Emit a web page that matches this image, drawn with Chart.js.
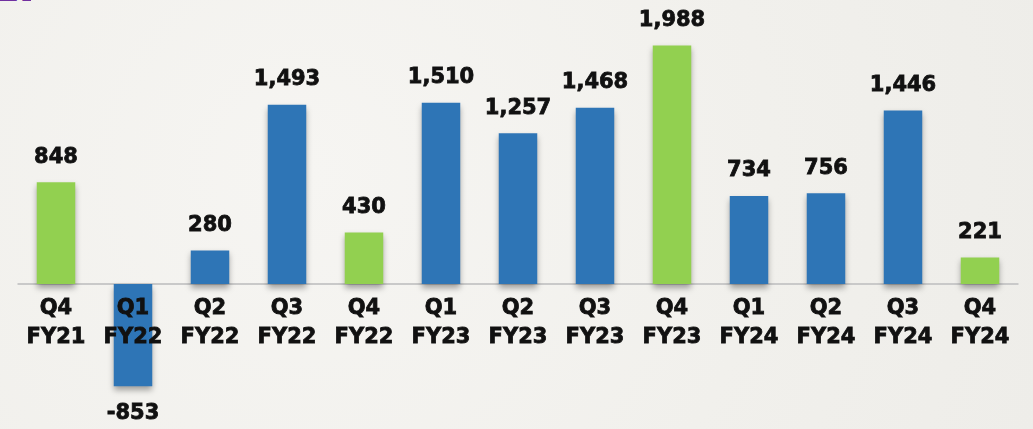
<!DOCTYPE html>
<html>
<head>
<meta charset="utf-8">
<script src="https://cdn.jsdelivr.net/npm/chart.js@4/dist/chart.umd.min.js"></script>
<style>
  html, body { margin: 0; padding: 0; }
  body {
    width: 1033px; height: 429px; overflow: hidden; position: relative;
    background: radial-gradient(circle at 30% 40%, #f6f5f2 0%, #f1f0ec 60%, #eeede9 100%);
  }
  #title {
    position: absolute; left: -4px; top: -31px; width: 35px;
    overflow: hidden; white-space: nowrap;
    font: bold 34px "DejaVu Sans", sans-serif; color: #7030a0;
  }
  #wrap { position: absolute; left: 0; top: 0; width: 1033px; height: 429px; }
</style>
</head>
<body>
<div id="title">EBITDA</div>
<div id="wrap"><canvas id="js-chartjs-ebitda" width="1033" height="429"></canvas></div>
<script>
const quarters = ["Q4", "Q1", "Q2", "Q3", "Q4", "Q1", "Q2", "Q3", "Q4", "Q1", "Q2", "Q3", "Q4"];
const years = ["FY21", "FY22", "FY22", "FY22", "FY22", "FY23", "FY23", "FY23", "FY23", "FY24", "FY24", "FY24", "FY24"];
const ebitda = [848, -853, 280, 1493, 430, 1510, 1257, 1468, 1988, 734, 756, 1446, 221];

const GREEN = "#92d050";
const BLUE = "#2e75b6";
const labelFont = "bold 21px 'DejaVu Sans', sans-serif";

// Q4 bars are green, others blue
const barColors = quarters.map((q) => (q === "Q4" ? GREEN : BLUE));

const zeroLine = {
  id: "zeroLine",
  beforeDatasetsDraw(chart) {
    const { ctx, chartArea, scales } = chart;
    const y = scales.y.getPixelForValue(0);
    ctx.save();
    ctx.strokeStyle = "#c9c9c9";
    ctx.lineWidth = 2;
    ctx.beginPath();
    ctx.moveTo(chartArea.left, y);
    ctx.lineTo(chartArea.right, y);
    ctx.stroke();
    ctx.restore();
  },
  beforeDatasetDraw(chart) {
    const ctx = chart.ctx;
    ctx.save();
    ctx.shadowColor = "rgba(0, 0, 0, 0.35)";
    ctx.shadowBlur = 6;
    ctx.shadowOffsetY = 4;
  },
  afterDatasetDraw(chart) {
    chart.ctx.restore();
  }
};

const barLabels = {
  id: "barLabels",
  afterDatasetsDraw(chart) {
    const { ctx, scales } = chart;
    const zeroY = scales.y.getPixelForValue(0);
    const meta = chart.getDatasetMeta(0);
    ctx.save();
    ctx.font = labelFont;
    ctx.fillStyle = "#111111";
    ctx.strokeStyle = "#111111";
    ctx.lineWidth = 0.8;
    ctx.textAlign = "center";
    ctx.textBaseline = "middle";
    const put = (txt, x, y) => {
      ctx.fillText(txt, x, y);
      ctx.strokeText(txt, x, y);
    };
    meta.data.forEach((bar, i) => {
      const v = ebitda[i];
      const txt = v.toLocaleString("en-US");
      const ly = v >= 0 ? bar.y - 25 : bar.y + 27;
      put(txt, bar.x, ly);
      put(quarters[i], bar.x, zeroY + 25);
      put(years[i], bar.x, zeroY + 54);
    });
    ctx.restore();
  }
};

new Chart(document.getElementById("js-chartjs-ebitda"), {
  type: "bar",
  data: {
    labels: quarters.map((q, i) => [q, years[i]]),
    datasets: [{
      data: ebitda,
      backgroundColor: barColors,
      borderWidth: 0,
      barPercentage: 0.5,
      categoryPercentage: 1.0
    }]
  },
  options: {
    responsive: false,
    animation: false,
    layout: { padding: { left: 17.5, right: 14.5, top: 32, bottom: 1 } },
    plugins: { legend: { display: false }, tooltip: { enabled: false } },
    scales: {
      x: { display: false },
      y: { display: false, min: -1200, max: 2100 }
    }
  },
  plugins: [zeroLine, barLabels]
});
</script>
</body>
</html>
